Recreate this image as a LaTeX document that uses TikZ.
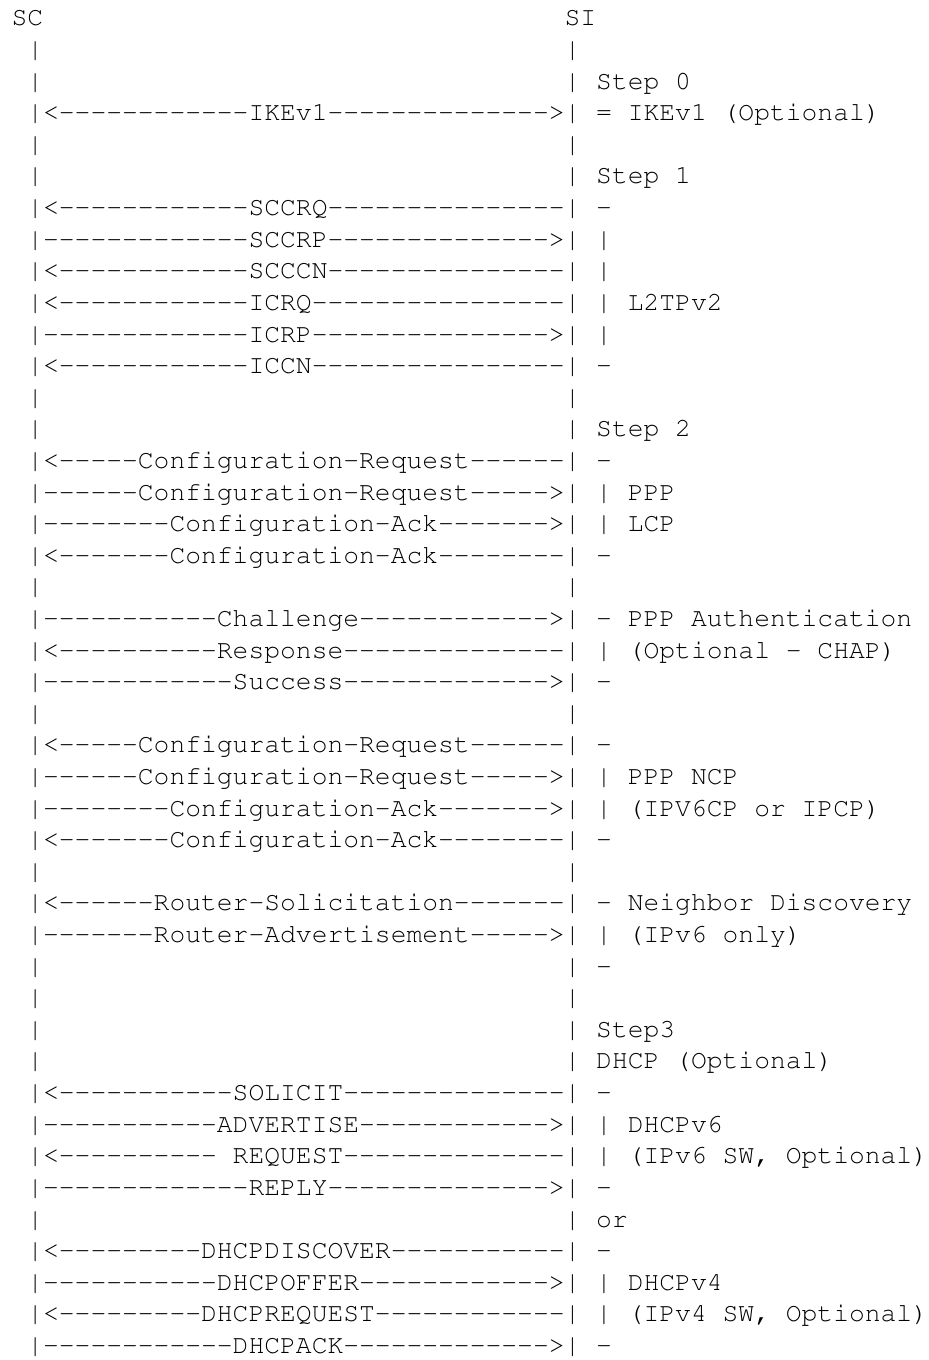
\documentclass[tikz,border=0pt]{standalone}
\usepackage[T1]{fontenc}
\usepackage{courier}
\newcommand\hy[1]{\foreach\k in {1,...,#1}{-}}
\tikzset{
  txt/.style={font=\ttfamily\fontsize{10}{12}\selectfont, inner sep=0pt, anchor=base west},
}
\begin{document}
\begin{tikzpicture}[x=6pt,y=-12pt,every node/.style={txt}]
  \fill[white] (-0.695,-0.822) rectangle (57.94,42.14);
  \draw
    (0,0) node (sc){SC}
    (35,0) node (si){SI};
  \foreach \r in {1,2,4,5,12,13,18,22,27,30,31,32,33,38}
    \draw (1,\r) node (scbar\r){|} (35,\r) node (sibar\r){|};
  % step 0 and step 1
  \draw
    (1,3) node (ikev1){|<\hy{12}IKEv1\hy{14}>|}
    (1,6) node (sccrq){|<\hy{12}SCCRQ\hy{15}|}
    (1,7) node (sccrp){|\hy{13}SCCRP\hy{14}>|}
    (1,8) node (scccn){|<\hy{12}SCCCN\hy{15}|}
    (1,9) node (icrq){|<\hy{12}ICRQ\hy{16}|}
    (1,10) node (icrp){|\hy{13}ICRP\hy{15}>|}
    (1,11) node (iccn){|<\hy{12}ICCN\hy{16}|};
  % step 2
  \draw
    (1,14) node (lcpreq1){|<\hy{5}Configuration-Request\hy{6}|}
    (1,15) node (lcpreq2){|\hy{6}Configuration-Request\hy{5}>|}
    (1,16) node (lcpack1){|\hy{8}Configuration-Ack\hy{7}>|}
    (1,17) node (lcpack2){|<\hy{7}Configuration-Ack\hy{8}|}
    (1,19) node (chal){|\hy{11}Challenge\hy{12}>|}
    (1,20) node (resp){|<\hy{10}Response\hy{14}|}
    (1,21) node (succ){|\hy{12}Success\hy{13}>|}
    (1,23) node (ncpreq1){|<\hy{5}Configuration-Request\hy{6}|}
    (1,24) node (ncpreq2){|\hy{6}Configuration-Request\hy{5}>|}
    (1,25) node (ncpack1){|\hy{8}Configuration-Ack\hy{7}>|}
    (1,26) node (ncpack2){|<\hy{7}Configuration-Ack\hy{8}|}
    (1,28) node (rs){|<\hy{6}Router-Solicitation\hy{7}|}
    (1,29) node (ra){|\hy{7}Router-Advertisement\hy{5}>|};
  % step 3
  \draw
    (1,34) node (solicit){|<\hy{11}SOLICIT\hy{14}|}
    (1,35) node (advert){|\hy{11}ADVERTISE\hy{12}>|}
    (1,36) node (request){|<\hy{10} REQUEST\hy{14}|}
    (1,37) node (reply){|\hy{13}REPLY\hy{14}>|}
    (1,39) node (discover){|<\hy{9}DHCPDISCOVER\hy{11}|}
    (1,40) node (offer){|\hy{11}DHCPOFFER\hy{12}>|}
    (1,41) node (dhcpreq){|<\hy{9}DHCPREQUEST\hy{12}|}
    (1,42) node (dhcpack){|\hy{12}DHCPACK\hy{13}>|};
  % notes right of SI
  \draw
    (37,2) node (step0){Step 0}
    (37,3) node (ikenote){= IKEv1 (Optional)}
    (37,5) node (step1){Step 1}
    (37,6) node (l2tpa){-}
    (37,7) node (l2tpb){|}
    (37,8) node (l2tpc){|}
    (37,9) node (l2tpd){| L2TPv2}
    (37,10) node (l2tpe){|}
    (37,11) node (l2tpf){-}
    (37,13) node (step2){Step 2}
    (37,14) node (lcpa){-}
    (37,15) node (lcpb){| PPP}
    (37,16) node (lcpc){| LCP}
    (37,17) node (lcpd){-}
    (37,19) node (autha){- PPP Authentication}
    (37,20) node (authb){| (Optional - CHAP)}
    (37,21) node (authc){-}
    (37,23) node (ncpa){-}
    (37,24) node (ncpb){| PPP NCP}
    (37,25) node (ncpc){| (IPV6CP or IPCP)}
    (37,26) node (ncpd){-}
    (37,28) node (nda){- Neighbor Discovery}
    (37,29) node (ndb){| (IPv6 only)}
    (37,30) node (ndc){-}
    (37,32) node (step3){Step3}
    (37,33) node (dhcpnote){DHCP (Optional)}
    (37,34) node (v6a){-}
    (37,35) node (v6b){| DHCPv6}
    (37,36) node (v6c){| (IPv6 SW, Optional)}
    (37,37) node (v6d){-}
    (37,38) node (ornote){or}
    (37,39) node (v4a){-}
    (37,40) node (v4b){| DHCPv4}
    (37,41) node (v4c){| (IPv4 SW, Optional)}
    (37,42) node (v4d){-};
\end{tikzpicture}
\end{document}
